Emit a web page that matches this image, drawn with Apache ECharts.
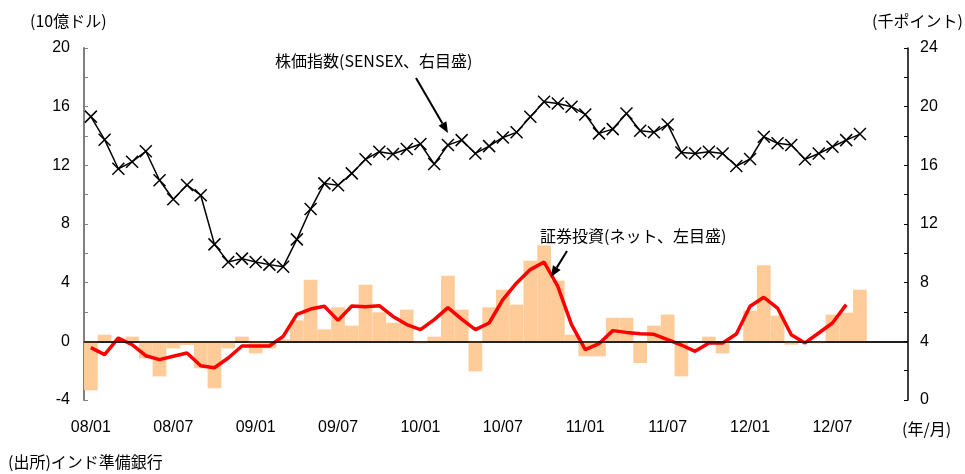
<!DOCTYPE html>
<html>
<head>
<meta charset="utf-8">
<script src="https://cdn.jsdelivr.net/npm/echarts@6/dist/echarts.min.js"></script>
<style>
  html, body { margin: 0; padding: 0; background: #fff; }
  #chart { width: 965px; height: 474px; }
</style>
</head>
<body>
<div id="chart"></div>
<script>
// 月次カテゴリ（08/01〜12/12）
const months = [
  '08/01','08/02','08/03','08/04','08/05','08/06','08/07','08/08','08/09','08/10','08/11','08/12',
  '09/01','09/02','09/03','09/04','09/05','09/06','09/07','09/08','09/09','09/10','09/11','09/12',
  '10/01','10/02','10/03','10/04','10/05','10/06','10/07','10/08','10/09','10/10','10/11','10/12',
  '11/01','11/02','11/03','11/04','11/05','11/06','11/07','11/08','11/09','11/10','11/11','11/12',
  '12/01','12/02','12/03','12/04','12/05','12/06','12/07','12/08','12/09','12/10','12/11','12/12'
];

// 証券投資（ネット、10億ドル）月次
const portfolioFlow = [
  -3.34, 0.45, 0, 0.32, -1.16, -2.39, -0.48, -0.25, -1.84, -3.2, -0.48, 0.32,
  -0.82, -0.48, 0.14, 1.43, 4.2, 0.82, 2.32, 1.07, 3.86, 1.98, 1.27, 2.16,
  -0.14, 0.32, 4.48, 2.16, -2.05, 2.32, 3.52, 2.5, 5.5, 6.55, 4.14, 0.45,
  -1.02, -1.02, 1.61, 1.61, -1.48, 1.07, 1.82, -2.39, 0, 0.32, -0.82, 0,
  2.09, 5.18, 1.75, -0.23, 0, -0.14, 1.82, 1.95, 3.52
];

// 証券投資 3か月移動平均（赤線）
const portfolioAvg = [
  -0.43, -0.91, 0.23, -0.23, -0.98, -1.25, -1.02, -0.8, -1.66, -1.8, -1.14, -0.32,
  -0.32, -0.32, 0.34, 1.84, 2.2, 2.39, 1.43, 2.41, 2.36, 2.43, 1.7, 1.14,
  0.8, 1.48, 2.3, 1.52, 0.8, 1.25, 2.84, 3.98, 4.89, 5.41, 3.75, 1.14,
  -0.57, -0.16, 0.73, 0.61, 0.52, 0.48, 0.11, -0.25, -0.68, -0.11, -0.11, 0.5,
  2.39, 3.0, 2.27, 0.45, -0.11, 0.57, 1.25, 2.5
];

// SENSEX（千ポイント、右目盛）
const sensex = [
  19.32, 17.75, 15.77, 16.24, 16.96, 14.98, 13.69, 14.66, 13.96, 10.61, 9.41, 9.64,
  9.41, 9.23, 9.08, 10.95, 13.02, 14.77, 14.64, 15.45, 16.41, 16.93, 16.77, 17.11,
  17.45, 16.09, 17.38, 17.72, 16.81, 17.31, 17.9, 18.25, 19.31, 20.34, 20.22, 20.0,
  19.47, 18.18, 18.47, 19.54, 18.36, 18.25, 18.79, 16.88, 16.81, 16.93, 16.81, 15.95,
  16.43, 17.95, 17.5, 17.38, 16.41, 16.81, 17.27, 17.72, 18.13
];

const numFont = '"Liberation Sans", Arial, sans-serif';
const jpFont = '"Noto Sans CJK JP", sans-serif';

const chart = echarts.init(document.getElementById('chart'), null, { renderer: 'canvas' });

// 矢印（線＋三角）
function arrow(x1, y1, x2, y2) {
  const ang = Math.atan2(y2 - y1, x2 - x1);
  const len = 11, half = 4.5;
  const bx = x2 - len * Math.cos(ang), by = y2 - len * Math.sin(ang);
  const px = -Math.sin(ang) * half, py = Math.cos(ang) * half;
  return [
    { type: 'line', shape: { x1, y1, x2: bx, y2: by }, style: { stroke: '#000', lineWidth: 2 }, z: 100 },
    { type: 'polygon', shape: { points: [[x2, y2], [bx + px, by + py], [bx - px, by - py]] }, style: { fill: '#000' }, z: 100 }
  ];
}

function jpText(x, y, text) {
  return { type: 'text', x, y, style: { text, font: '16px ' + jpFont, fill: '#000', textVerticalAlign: 'middle' }, z: 100 };
}

const option = {
  animation: false,
  grid: { left: 84, right: 57, top: 48, bottom: 74 },
  xAxis: [
    {
      type: 'category',
      data: months,
      boundaryGap: true,
      axisLine: { lineStyle: { color: '#555', width: 1.5 } },
      axisTick: { inside: true, length: 4, interval: 0, lineStyle: { color: '#555' } },
      axisLabel: { interval: 5, margin: 20, color: '#000', fontSize: 16, fontFamily: numFont },
      splitLine: { show: false }
    },
    {
      type: 'category',
      data: months,
      position: 'bottom',
      boundaryGap: true,
      axisLine: { show: false },
      axisTick: { inside: true, length: 8, interval: 5, lineStyle: { color: '#555' } },
      axisLabel: { show: false },
      splitLine: { show: false }
    }
  ],
  yAxis: [
    {
      type: 'value',
      min: -4, max: 20, interval: 2,
      axisLine: { show: true, lineStyle: { color: '#808080', width: 2 } },
      axisTick: { show: true, inside: true, length: 4, lineStyle: { color: '#808080' } },
      axisLabel: {
        margin: 14, color: '#000', fontSize: 16, fontFamily: numFont,
        formatter: v => (v % 4 === 0 ? String(v) : '')
      },
      splitLine: { show: false }
    },
    {
      type: 'value',
      min: 0, max: 24, interval: 2,
      position: 'right',
      axisLine: { show: true, lineStyle: { color: '#000', width: 1.5 } },
      axisTick: { show: true, inside: true, length: 4, lineStyle: { color: '#000' } },
      axisLabel: {
        margin: 12, color: '#000', fontSize: 16, fontFamily: numFont,
        formatter: v => (v % 4 === 0 ? String(v) : '')
      },
      splitLine: { show: false }
    }
  ],
  series: [
    {
      name: '証券投資',
      type: 'bar',
      data: portfolioFlow,
      barWidth: '100%',
      barCategoryGap: 0,
      itemStyle: { color: '#ffcc99' },
      z: 1,
      markLine: {
        silent: true,
        symbol: 'none',
        label: { show: false },
        lineStyle: { color: '#000', type: 'solid', width: 1.5 },
        data: [{ yAxis: 0 }]
      }
    },
    {
      name: '移動平均',
      type: 'line',
      data: portfolioAvg,
      symbol: 'none',
      lineStyle: { color: '#ff0000', width: 3.5 },
      z: 3
    },
    {
      name: 'SENSEX',
      type: 'line',
      yAxisIndex: 1,
      data: sensex,
      showAllSymbol: true,
      symbol: 'path://M0,0L10,10M10,0L0,10',
      symbolSize: 12,
      itemStyle: { color: '#000', borderColor: '#000', borderWidth: 1.5 },
      lineStyle: { color: '#000', width: 1.5 },
      z: 4
    }
  ],
  graphic: [
    jpText(30, 21, '(10億ドル)'),
    jpText(872, 21, '(千ポイント)'),
    jpText(275, 61, '株価指数(SENSEX、右目盛)'),
    jpText(540, 236, '証券投資(ネット、左目盛)'),
    jpText(902, 429, '(年/月)'),
    jpText(8, 462, '(出所)インド準備銀行'),
    ...arrow(416, 78, 448, 133),
    ...arrow(567, 251, 551, 277)
  ]
};

chart.setOption(option);
</script>
</body>
</html>
